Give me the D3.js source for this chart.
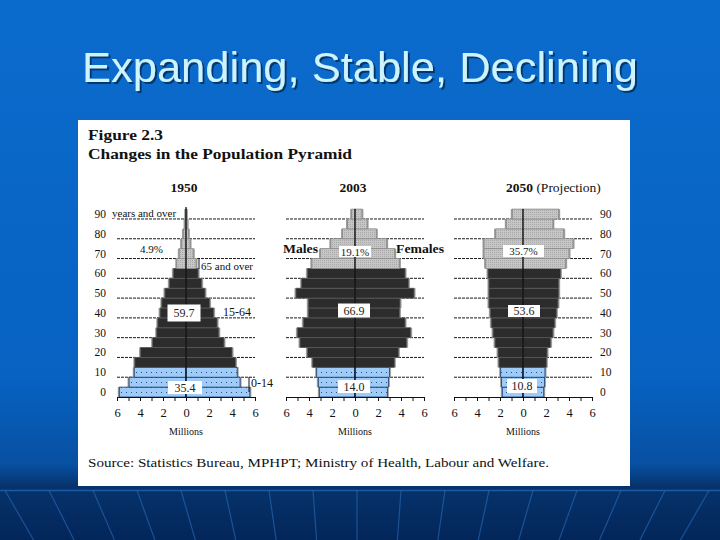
<!DOCTYPE html>
<html>
<head>
<meta charset="utf-8">
<script src="https://cdn.jsdelivr.net/npm/d3@7"></script>
<style>
  html, body { margin: 0; padding: 0; background: #0866c6; }
  svg { display: block; }
</style>
</head>
<body>
<svg id="chart" width="720" height="540"></svg>
<script>
// ---------------- DATA ----------------
const ageGroups = ["0-4","5-9","10-14","15-19","20-24","25-29","30-34","35-39","40-44","45-49",
                   "50-54","55-59","60-64","65-69","70-74","75-79","80-84","85-89","90+"];
const years = ["1950", "2003", "2050"];

// Population by 5-year age group, millions
const males1950   = [5.8, 4.95, 4.5, 4.45, 3.95, 2.9, 2.55, 2.45, 2.25, 2.1, 1.83, 1.45, 1.1, 0.8, 0.58, 0.38, 0.22, 0.08, 0.02];
const females1950 = [5.55, 4.7, 4.45, 4.3, 4.0, 3.3, 2.85, 2.7, 2.4, 2.05, 1.65, 1.36, 1.05, 0.87, 0.63, 0.35, 0.2, 0.1, 0.03];

const males2003   = [3.1, 3.19, 3.33, 3.68, 4.14, 4.78, 5.01, 4.49, 4.06, 4.06, 5.13, 4.64, 4.14, 3.75, 3.0, 2.1, 1.08, 0.65, 0.29];
const females2003 = [2.81, 2.9, 2.99, 3.42, 3.77, 4.49, 4.84, 4.35, 3.86, 3.91, 5.13, 4.64, 4.35, 3.86, 3.45, 2.75, 1.85, 1.05, 0.6];

const males2050   = [1.8, 1.86, 1.94, 2.09, 2.17, 2.43, 2.6, 2.75, 2.84, 2.96, 2.96, 2.96, 3.04, 3.25, 3.39, 3.39, 2.38, 1.45, 0.93];
const females2050 = [1.8, 1.86, 1.91, 2.03, 2.09, 2.4, 2.6, 2.75, 2.9, 3.04, 3.1, 3.1, 3.25, 3.71, 4.0, 4.35, 3.54, 2.6, 3.1];

// Share labels (0-14 millions, 15-64 millions, 65+ share)
const share1950 = ["35.4", "59.7", "4.9%"];
const share2003 = ["14.0", "66.9", "19.1%"];
const share2050 = ["10.8", "53.6", "35.7%"];

const xTicks = [-6,-5,-4,-3,-2,-1,0,1,2,3,4,5,6];
const ageTicks = [0,10,20,30,40,50,60,70,80,90];

// ---------------- DRAW ----------------
const svg = d3.select("#chart");
const defs = svg.append("defs");

const bg = defs.append("linearGradient").attr("id","bg").attr("x1",0).attr("y1",0).attr("x2",0).attr("y2",1);
[[0,"#0b6bcc"],[0.7,"#0762c2"],[0.86,"#0750a2"],[0.9,"#06336c"],[1,"#03265a"]].forEach(s =>
  bg.append("stop").attr("offset", s[0]).attr("stop-color", s[1]));

const shadow = defs.append("filter").attr("id","tshadow").attr("x","-5%").attr("y","-20%").attr("width","110%").attr("height","140%");
shadow.append("feDropShadow").attr("dx",2).attr("dy",2).attr("stdDeviation",0.6)
  .attr("flood-color","#06284f").attr("flood-opacity",0.75);

// Patterns
const pBlue = defs.append("pattern").attr("id","pBlue").attr("patternUnits","userSpaceOnUse")
  .attr("width",5).attr("height",5);
pBlue.append("rect").attr("width",5).attr("height",5).attr("fill","#9ecbf7");
pBlue.append("rect").attr("x",1).attr("y",2).attr("width",1).attr("height",1).attr("fill","#2a4f86");

const pGrey = defs.append("pattern").attr("id","pGrey").attr("patternUnits","userSpaceOnUse")
  .attr("width",2).attr("height",2);
pGrey.append("rect").attr("width",2).attr("height",2).attr("fill","#c6c6c6");
pGrey.append("rect").attr("x",0).attr("y",0).attr("width",1).attr("height",1).attr("fill","#a9a9a9");

// Background
svg.append("rect").attr("width",720).attr("height",540).attr("fill","url(#bg)");
// Floor perspective lines
const floorY = 490.5;
svg.append("line").attr("x1",0).attr("x2",720).attr("y1",floorY).attr("y2",floorY)
  .attr("stroke","#2a6cbd").attr("stroke-opacity",0.7).attr("stroke-width",1.5);
const vp = [357, 1100];
d3.range(-10, 11).forEach(k => {
  const x0 = 357 + k * 44;
  const t = (540 - floorY) / (vp[1] - floorY);
  const x1 = x0 + (vp[0] - x0) * t;
  svg.append("line").attr("x1",x0).attr("y1",floorY).attr("x2",x1).attr("y2",540)
    .attr("stroke","#2a6cbd").attr("stroke-opacity",0.6).attr("stroke-width",1.2);
});

// Slide title
svg.append("text").attr("x",360).attr("y",82).attr("text-anchor","middle")
  .attr("font-family","'Liberation Sans', Arial, sans-serif").attr("font-size",42)
  .attr("fill","#cdf3ff").attr("filter","url(#tshadow)")
  .attr("textLength",556).attr("lengthAdjust","spacingAndGlyphs")
  .text("Expanding, Stable, Declining");

// White figure panel
svg.append("rect").attr("x",78).attr("y",120).attr("width",552).attr("height",366).attr("fill","#ffffff");

const serif = "'Liberation Serif', 'Times New Roman', serif";
function txt(x, y, s, opts = {}) {
  const t = svg.append("text").attr("x",x).attr("y",y)
    .attr("font-family",serif).attr("font-size",opts.size || 11)
    .attr("font-weight",opts.bold ? "bold" : "normal")
    .attr("text-anchor",opts.anchor || "start")
    .attr("fill",opts.fill || "#111").text(s);
  if (opts.len) t.attr("textLength",opts.len).attr("lengthAdjust","spacingAndGlyphs");
  return t;
}

txt(88,140,"Figure 2.3",{bold:true,size:14,len:75});
txt(88,159,"Changes in the Population Pyramid",{bold:true,size:14,len:264});

// Shared y scale (age)
const y = d3.scaleLinear().domain([0,100]).range([397,199.2]);

const panels = [
  {year:"1950", cx:186, males:males1950, females:females1950, share:share1950},
  {year:"2003", cx:355, males:males2003, females:females2003, share:share2003},
  {year:"2050", cx:523, males:males2050, females:females2050, share:share2050}
];

function fillFor(i) { return i < 3 ? "url(#pBlue)" : (i < 13 ? "#2c2c2c" : "url(#pGrey)"); }
function strokeFor(i) { return i < 3 ? "#1f3f6e" : (i < 13 ? "#5a5a5a" : "#8a8a8a"); }

panels.forEach((p, pi) => {
  const x = d3.scaleLinear().domain([-6,6]).range([p.cx - 69, p.cx + 69]);
  const g = svg.append("g");

  // gridlines
  g.selectAll("line.grid").data(ageTicks.filter(a => a > 0)).join("line")
    .attr("x1",x(-6)).attr("x2",x(6)).attr("y1",d => y(d)).attr("y2",d => y(d))
    .attr("stroke","#1a1a1a").attr("stroke-width",1).attr("stroke-dasharray","3,1");

  const rows = ageGroups.map((a, i) => ({i, m:p.males[i], f:p.females[i]}));

  // shadows on outer edges
  g.selectAll("rect.shadow").data(rows).join("rect")
    .attr("x",d => x(-d.m) - 1.5).attr("width",d => x(d.f) - x(-d.m) + 3)
    .attr("y",d => y(d.i*5 + 5)).attr("height",d => y(d.i*5) - y(d.i*5 + 5))
    .attr("fill","#9b9b9b");
  // male bars
  g.selectAll("rect.m").data(rows).join("rect")
    .attr("x",d => x(-d.m)).attr("width",d => x(0) - x(-d.m))
    .attr("y",d => y(d.i*5 + 5)).attr("height",d => y(d.i*5) - y(d.i*5 + 5))
    .attr("fill",d => fillFor(d.i)).attr("stroke",d => strokeFor(d.i)).attr("stroke-width",0.8);
  // female bars
  g.selectAll("rect.f").data(rows).join("rect")
    .attr("x",x(0)).attr("width",d => x(d.f) - x(0))
    .attr("y",d => y(d.i*5 + 5)).attr("height",d => y(d.i*5) - y(d.i*5 + 5))
    .attr("fill",d => fillFor(d.i)).attr("stroke",d => strokeFor(d.i)).attr("stroke-width",0.8);

  // center line
  g.append("line").attr("x1",x(0)).attr("x2",x(0)).attr("y1",y(0)).attr("y2",y(pi === 0 ? 96 : 95))
    .attr("stroke","#000").attr("stroke-width",1.2);

  // x axis
  const axis = d3.axisBottom(x).tickValues(xTicks).tickSize(4).tickSizeOuter(0).tickPadding(7)
    .tickFormat(d => d % 2 === 0 ? Math.abs(d) : "");
  const ag = g.append("g").attr("transform",`translate(0,${y(0)})`).call(axis);
  ag.select(".domain").attr("stroke","#111");
  ag.selectAll(".tick line").attr("stroke","#111");
  ag.selectAll("text").attr("font-family",serif).attr("font-size",12.5).attr("fill","#111");

  txt(p.cx, 435, "Millions", {anchor:"middle", size:10});
});

// Age labels (left of 1950, right of 2050)
ageTicks.forEach(a => {
  txt(106, y(a) - 1, a, {anchor:"end", size:11.5});
  txt(600, y(a) - 1, a, {anchor:"start", size:11.5});
});

// Year headers
txt(184,192,"1950",{bold:true,size:13.5,anchor:"middle"});
txt(353,192,"2003",{bold:true,size:13.5,anchor:"middle"});
const t2050 = txt(506,192,"2050",{bold:true,size:13.5});
t2050.append("tspan").attr("font-weight","normal").text(" (Projection)");

// Boxed share labels
function boxLabel(cx, cy, w, h, s, size) {
  svg.append("rect").attr("x",cx - w/2).attr("y",cy - h/2).attr("width",w).attr("height",h).attr("fill","#fff");
  txt(cx, cy + 4, s, {anchor:"middle", size:size || 12, fill:"#222"});
}
boxLabel(184, 313, 33, 17, share1950[1]);
boxLabel(185, 387.5, 34, 13, share1950[0]);
boxLabel(355, 251.5, 32, 11, share2003[2], 11);
boxLabel(354, 310.5, 32, 14, share2003[1]);
boxLabel(354, 386.5, 32, 13, share2003[0]);
boxLabel(523.5, 251, 41, 12, share2050[2], 11);
boxLabel(524, 311, 32, 12, share2050[1]);
boxLabel(522, 386, 30, 14, share2050[0]);

// 1950 annotations
txt(112, 217, "years and over", {size:11});
txt(140, 253, share1950[2], {size:11});
txt(201, 270, "65 and over", {size:11});
svg.append("line").attr("x1",199).attr("x2",199).attr("y1",258).attr("y2",269).attr("stroke","#111");
txt(223, 316, "15-64", {size:12});
txt(251, 387, "0-14", {size:12});
svg.append("line").attr("x1",249).attr("x2",249).attr("y1",377).attr("y2",392).attr("stroke","#111");

// 2003 annotations
txt(283, 253, "Males", {bold:true, size:11.5, len:35});
txt(396, 253, "Females", {bold:true, size:11.5, len:48});

// Source
txt(88, 467, "Source:  Statistics Bureau, MPHPT;  Ministry of Health, Labour and Welfare.", {size:13, len:461});
</script>
</body>
</html>
